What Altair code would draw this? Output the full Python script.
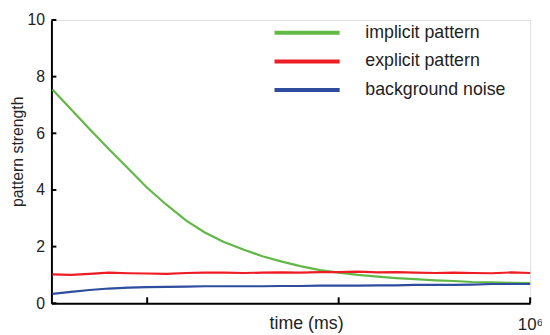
import altair as alt
import pandas as pd

# time (ms), log axis
times = [3200, 4000, 5000, 6300, 8000, 10000, 12600, 16000, 20000, 25000, 32000,
         40000, 50000, 63000, 80000, 100000, 126000, 160000, 200000, 250000,
         320000, 400000, 500000, 630000, 800000, 1000000]
implicit = [7.55, 6.85, 6.15, 5.45, 4.74, 4.08, 3.48, 2.92, 2.5, 2.17, 1.89, 1.66, 1.48,
            1.31, 1.17, 1.08, 1.0, 0.94, 0.89, 0.85, 0.81, 0.785, 0.75, 0.735, 0.725, 0.71]
explicit = [1.02, 1.0, 1.04, 1.08, 1.06, 1.05, 1.04, 1.07, 1.08, 1.08, 1.07, 1.08, 1.09,
            1.08, 1.1, 1.1, 1.12, 1.09, 1.1, 1.08, 1.07, 1.08, 1.07, 1.06, 1.09, 1.07]
background = [0.33, 0.4, 0.47, 0.52, 0.55, 0.57, 0.58, 0.59, 0.6, 0.6, 0.6, 0.6, 0.61,
              0.61, 0.62, 0.62, 0.62, 0.63, 0.63, 0.65, 0.65, 0.65, 0.66, 0.68, 0.68, 0.68]

series_names = ["implicit pattern", "explicit pattern", "background noise"]
series_colors = ["#62b846", "#ee1c25", "#2e4d9f"]

y_ticks = [0, 2, 4, 6, 8, 10]
x_ticks = [10000, 100000, 1000000]

rows = []
for name, vals in zip(series_names, [implicit, explicit, background]):
    for t, v in zip(times, vals):
        rows.append({"time": t, "value": v, "series": name})
df = pd.DataFrame(rows)

FONT = "Liberation Sans"

xscale = alt.Scale(type="log", domain=[3162, 1000000], nice=False)
yscale = alt.Scale(domain=[0, 10], nice=False)

lines = alt.Chart(df).mark_line(strokeWidth=2.2).encode(
    x=alt.X("time:Q", scale=xscale,
            axis=alt.Axis(values=[1000000], labelExpr="datum.value == 1000000 ? '10⁶' : ''",
                          tickSize=0, labelPadding=14, labelFontSize=17, labelFont=FONT,
                          labelFlush=False, labelColor="#222", domainColor="black",
                          domainWidth=2, grid=False, title="time (ms)", titleFontSize=18,
                          titleFont=FONT, titleFontWeight="normal", titleColor="#222",
                          titleX=258, titleY=12, titleBaseline="top")),
    y=alt.Y("value:Q", scale=yscale,
            axis=alt.Axis(values=y_ticks, tickSize=0, labelPadding=7, labelFontSize=16,
                          labelFont=FONT, labelColor="#222", domainColor="black",
                          domainWidth=2, grid=False, title="pattern strength",
                          titleFontSize=16, titleFont=FONT, titleFontWeight="normal",
                          titleColor="#222", titleX=-34, titleY=133,
                          titleBaseline="middle", titleAngle=-90)),
    color=alt.Color("series:N",
                    scale=alt.Scale(domain=series_names, range=series_colors),
                    legend=alt.Legend(orient="none", legendX=224, legendY=4, title=None,
                                      symbolType="stroke", symbolSize=4356,
                                      symbolStrokeWidth=4, labelFontSize=18,
                                      labelFont=FONT, labelColor="#222", labelOffset=24,
                                      padding=0, clipHeight=18, rowPadding=11)),
    order=alt.value(0),
)

ytick_df = pd.DataFrame({"v": y_ticks})
ytick_marks = alt.Chart(ytick_df).mark_rule(color="black", strokeWidth=2).encode(
    y=alt.Y("v:Q", scale=yscale), x=alt.value(0), x2=alt.value(5)
)
xtick_df = pd.DataFrame({"t": x_ticks})
xtick_marks = alt.Chart(xtick_df).mark_rule(color="black", strokeWidth=2).encode(
    x=alt.X("t:Q", scale=xscale), y=alt.value(287), y2=alt.value(281)
)

chart = alt.layer(lines, ytick_marks, xtick_marks).properties(
    width=485, height=287,
    autosize=alt.AutoSizeParams(type="none"),
    padding={"left": 44, "top": 10, "right": 12, "bottom": 30},
).configure_view(stroke=None).configure(background="white")

chart.save("out.html", embed_options={"renderer": "svg", "actions": False})
